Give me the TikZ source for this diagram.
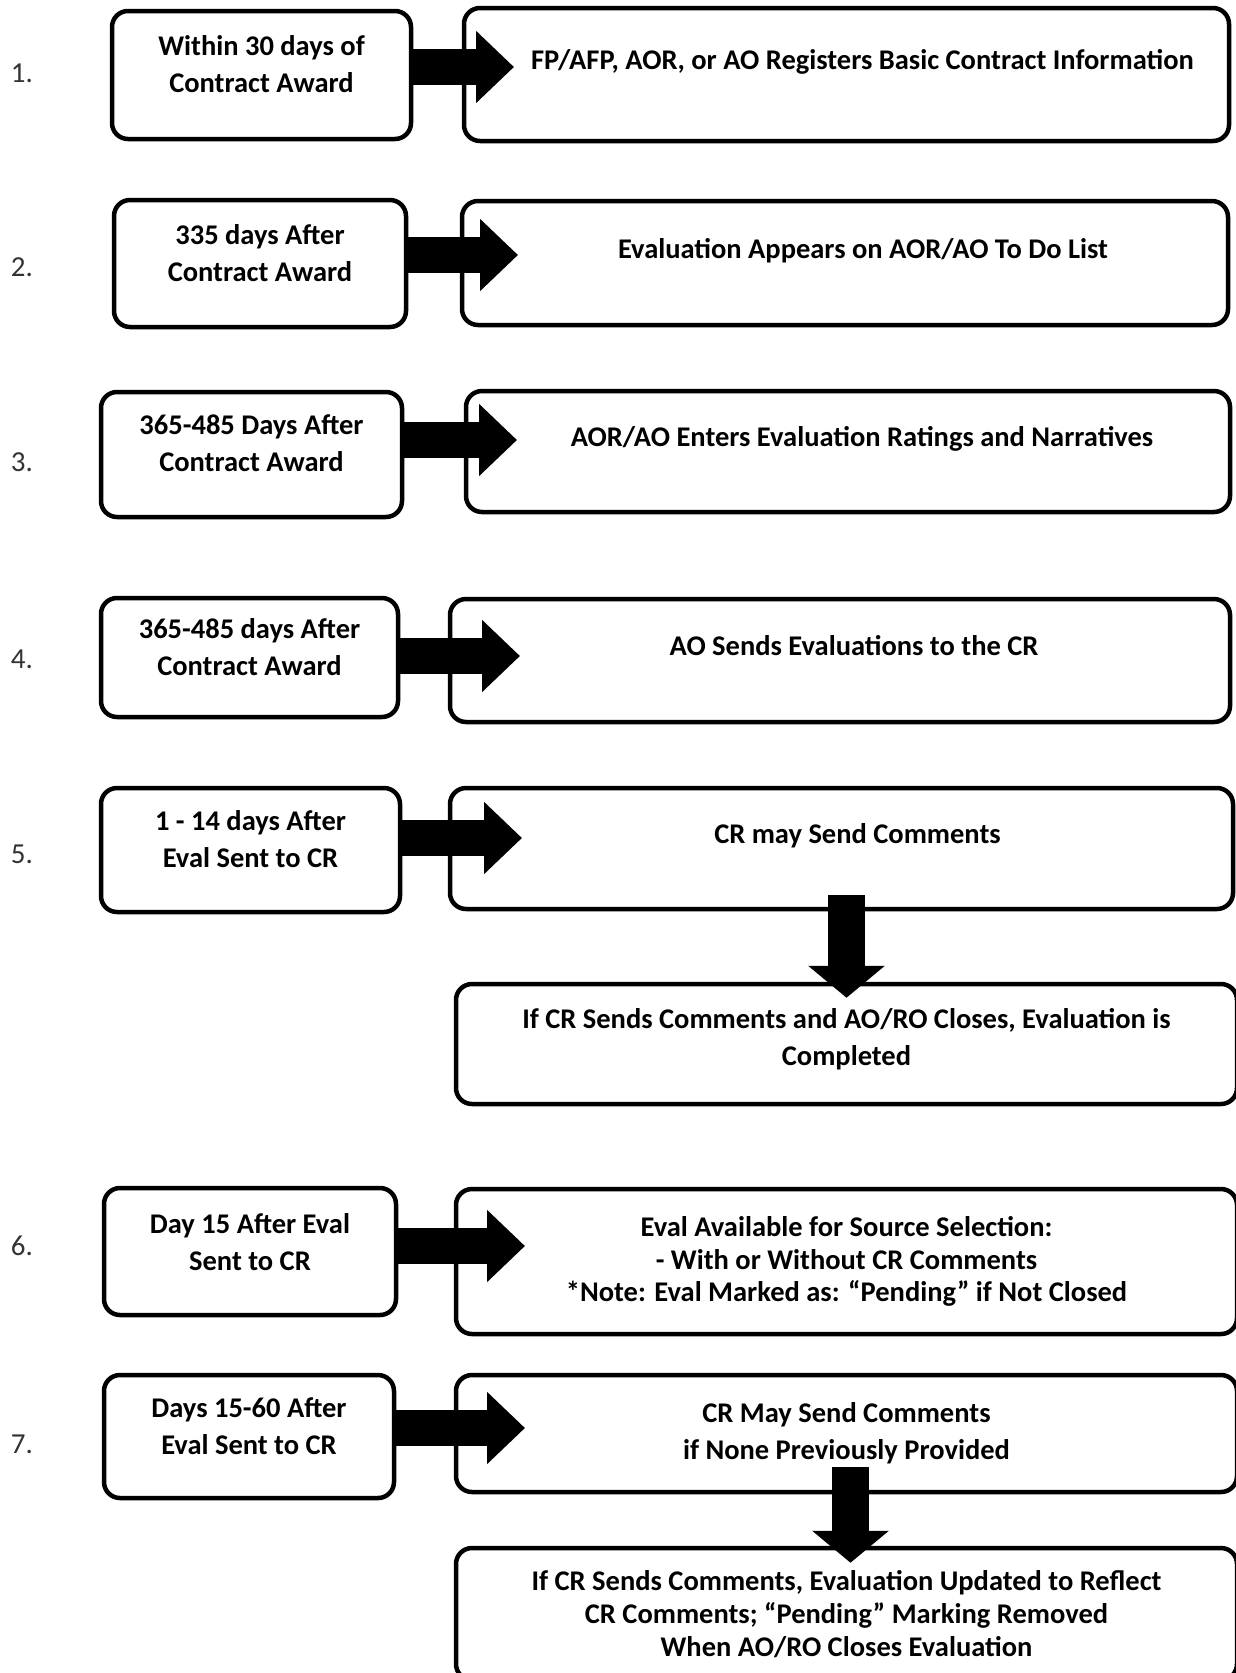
\documentclass[tikz,border=0pt]{standalone}
\usepackage{fontspec}
\setmainfont{Carlito}
\usetikzlibrary{arrows.meta}

\begin{document}
\begin{tikzpicture}[x=1pt,y=-1pt,
		box/.style={draw,line width=4.5pt,rounded corners=16pt,align=center,inner sep=0pt,
			font=\fontsize{28.5}{37}\selectfont\bfseries},
		lift/.style={text depth=#1},
		nudge/.style={execute at begin node={\hspace*{#1}}},
		fatarrow/.style={line width=36pt,-{Triangle[length=38pt,width=70pt]}},
		droparrow/.style={line width=37pt,-{Triangle[length=32pt,width=75pt]}},
		num/.style={font=\fontsize{29}{32}\selectfont,text=black!80}]
	\useasboundingbox (0,0) rectangle (1235,1673);
	% step numbers
	\foreach \n/\y in {1/73,2/267,3/462,4/659,5/854,6/1246,7/1444}
		\node[num] (n\n) at (22,\y) {\n.};
	% when
	\node[box,lift=22pt,minimum width=299pt,minimum height=128pt] (l1) at (261.5,75) {Within 30 days of\\Contract Award};
	\node[box,lift=22pt,minimum width=292pt,minimum height=127pt] (l2) at (260,263.5) {335 days After\\Contract Award};
	\node[box,lift=22pt,minimum width=301pt,minimum height=125pt] (l3) at (251.5,454.5) {365-485 Days After\\Contract Award};
	\node[box,lift=22pt,minimum width=297pt,minimum height=119pt] (l4) at (249.5,657.5) {365-485 days After\\Contract Award};
	\node[box,lift=22pt,minimum width=299pt,minimum height=124pt] (l5) at (250.5,850) {1 - 14 days After\\Eval Sent to CR};
	\node[box,lift=20pt,minimum width=292pt,minimum height=127pt] (l6) at (250,1251.5) {Day 15 After Eval\\Sent to CR};
	\node[box,lift=20pt,minimum width=290pt,minimum height=123pt] (l7) at (249,1436.5) {Days 15-60 After\\Eval Sent to CR};
	% what
	\node[box,lift=30pt,nudge=32pt,minimum width=765pt,minimum height=133pt] (r1) at (846.5,74.5) {FP/AFP, AOR, or AO Registers Basic Contract Information};
	\node[box,lift=30pt,nudge=36pt,minimum width=766pt,minimum height=124pt] (r2) at (845,263) {Evaluation Appears on AOR/AO To Do List};
	\node[box,lift=30pt,nudge=28pt,minimum width=764pt,minimum height=121pt] (r3) at (848,451.5) {AOR/AO Enters Evaluation Ratings and Narratives};
	\node[box,lift=30pt,nudge=28pt,minimum width=780pt,minimum height=123pt] (r4) at (840,660.5) {AO Sends Evaluations to the CR};
	\node[box,lift=30pt,nudge=32pt,minimum width=783pt,minimum height=121pt] (r5) at (841.5,848.5) {CR may Send Comments};
	\node[box,lift=14pt,minimum width=781pt,minimum height=120pt] (b5) at (846.5,1044) {If CR Sends Comments and AO/RO Closes, Evaluation is\\Completed};
	\node[box,font=\fontsize{28.5}{32.5}\selectfont\bfseries,minimum width=781pt,minimum height=145pt] (r6) at (846.5,1261.5) {Eval Available for Source Selection:\\- With or Without CR Comments\\*Note: Eval Marked as: “Pending” if Not Closed};
	\node[box,minimum width=781pt,minimum height=117pt] (r7) at (846.5,1433.5) {CR May Send Comments\\if None Previously Provided};
	\node[box,font=\fontsize{28.5}{33}\selectfont\bfseries,minimum width=781pt,minimum height=132pt] (b7) at (846.5,1614) {If CR Sends Comments, Evaluation Updated to Reflect\\CR Comments; “Pending” Marking Removed\\When AO/RO Closes Evaluation};
	% arrows
	\coordinate (t1) at (514,67);
	\coordinate (t2) at (518,255);
	\coordinate (t3) at (517,440);
	\coordinate (t4) at (520,656);
	\coordinate (t5) at (522,838);
	\coordinate (t6) at (525,1246);
	\coordinate (t7) at (525,1428);
	\foreach \i in {1,...,7}
		\draw[fatarrow] (l\i.east |- t\i) -- (t\i);
	\draw[droparrow,shorten <=-16pt,shorten >=-16pt] (r5.south -| b5.north) -- (b5.north);
	\draw[droparrow,shorten <=-27pt,shorten >=-17pt] ([xshift=4pt]r7.south) -- ([xshift=4pt]b7.north);
\end{tikzpicture}
\end{document}
